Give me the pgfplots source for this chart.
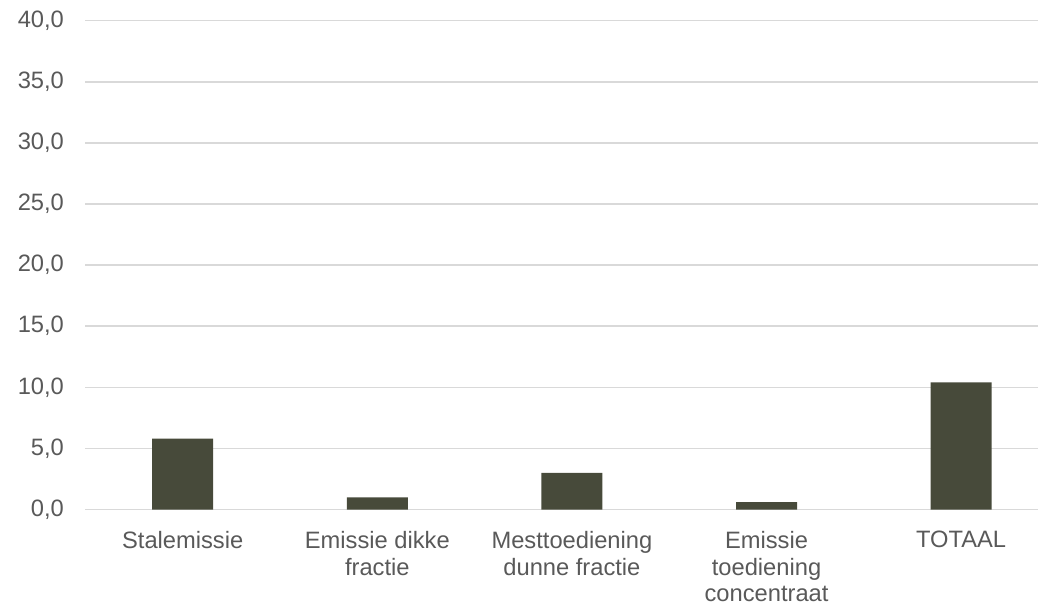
\documentclass[border=0pt]{standalone}
\usepackage{fontspec}
\setmainfont{Liberation Sans}
\usepackage{pgfplots}
\pgfplotsset{compat=1.18}
\definecolor{barc}{RGB}{71,74,58}
\definecolor{gridc}{RGB}{217,217,217}
\definecolor{txtc}{RGB}{89,89,89}
\begin{document}
\fontsize{11.85pt}{13.25pt}\selectfont
\begin{tikzpicture}
\path[use as bounding box] (-42.7pt,-47.75pt) rectangle (476.3pt,254.75pt);
\begin{axis}[
  at={(0,0)}, anchor=south west,
  width=476.3pt, height=244.4pt, scale only axis,
  xmin=-0.5, xmax=4.395, ymin=0, ymax=40,
  ytick={0,5,...,40},
  xtick={0,1,2,3,4},
  xticklabels={Stalemissie, Emissie dikke\\fractie, Mesttoediening\\dunne fractie, Emissie\\toediening\\concentraat, TOTAAL},
  ymajorgrids,
  grid style={gridc, line width=0.75pt},
  axis line style={draw=none},
  major tick length=0pt,
  tick label style={text=txtc},
  x tick label style={align=center, yshift=-6.8pt},
  y tick label style={xshift=-6.6pt},
  yticklabel style={/pgf/number format/.cd, fixed, fixed zerofill, precision=1, use comma, assume math mode=true},
  clip=false,
]
\addplot[ybar, bar width=30.5pt, fill=barc, draw=none] coordinates {(0,5.8) (1,1.0) (2,3.0) (3,0.6) (4,10.4)};
\end{axis}
\end{tikzpicture}
\end{document}
